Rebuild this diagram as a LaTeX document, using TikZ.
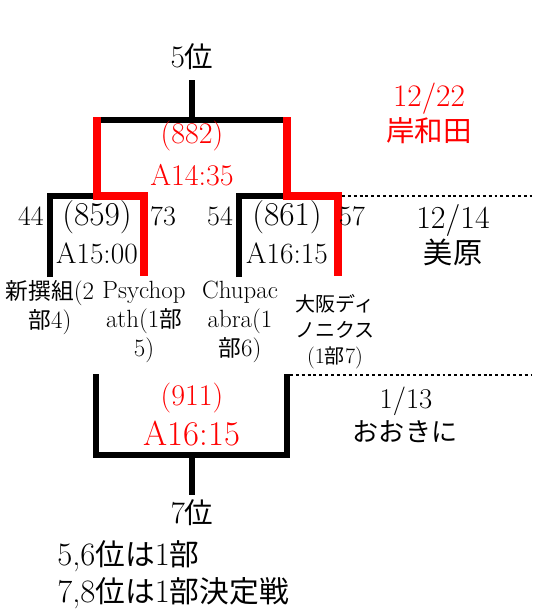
\documentclass[tikz,border=0pt]{standalone}
\usepackage{fontspec}
\usepackage{tikz}
\usetikzlibrary{positioning}
\newfontfamily\jp[Scale=0.91]{Noto Sans CJK JP}
\definecolor{wred}{RGB}{255,0,0}
\tikzstyle{bracket} = [line width=4.5pt, color=black, line join=miter]
\tikzstyle{winner} = [line width=6pt, color=wred, line join=miter]
\tikzstyle{nextday} = [line width=2.2pt, color=black, dash pattern=on 2.2pt off 2.2pt]
\tikzstyle{txt} = [inner sep=0pt, anchor=base]
\tikzstyle{team} = [inner sep=0pt, anchor=base, align=center, font=\fontsize{18.7}{21.4}\selectfont]

\begin{document}
\begin{tikzpicture}[x=0.75pt, y=-0.75pt]
    \useasboundingbox (0,0) rectangle (532,610);

    % Joints of the bracket
    \coordinate (top5) at (192,80);
    \coordinate (m882) at (192,120);
    \coordinate (l882) at (97,117);
    \coordinate (r882) at (287,117);
    \coordinate (m859) at (97,196);
    \coordinate (m861) at (287,196);
    \coordinate (end14) at (532,196);
    \coordinate (m911) at (192,455);
    \coordinate (bot7) at (192,495);
    \coordinate (end13) at (532,375);

    % Semi-finals
    \draw[bracket] (50,277) -- (50,196) -- (m859);
    \draw[bracket] (239,277) -- (239,196) -- (m861);
    \draw[winner] (l882) -- (m859) -- (144,196) -- (144,276);
    \draw[winner] (r882) -- (m861) -- (338,196) -- (338,276);
    \draw[nextday] (342,196) -- (end14);

    % 5th place match
    \draw[bracket] (101,120) -- (283,120);
    \draw[bracket] (m882) -- (top5);

    % 7th place match
    \draw[bracket] (96,374) -- (96,455) -- (287,455) -- (287,374);
    \draw[bracket] (m911) -- (bot7);
    \draw[nextday] (290,375) -- (end13);

    % Labels of the 5th place match
    \node[txt, font=\fontsize{23.5}{28}\selectfont] (rank5) at (192,68) {5{\jp 位}};
    \node[txt, wred, font=\fontsize{22.5}{26}\selectfont] (g882) at (192,143) {(882)};
    \node[txt, wred, font=\fontsize{22.5}{26}\selectfont] (t882) at (192,185) {A14:35};
    \node[txt, wred, font=\fontsize{23.5}{28}\selectfont] (day22) at (429,107) {12/22};
    \node[txt, wred, font=\fontsize{23.5}{28}\selectfont] (site22) at (429,141) {\jp 岸和田};

    % Semi-final labels
    \node[txt, font=\fontsize{21}{24}\selectfont] (s44) at (31,225) {44};
    \node[txt, font=\fontsize{25}{29}\selectfont] (g859) at (97,225) {(859)};
    \node[txt, font=\fontsize{21}{24}\selectfont] (s73) at (163,225) {73};
    \node[txt, font=\fontsize{22}{26}\selectfont] (t859) at (97,263) {A15:00};
    \node[txt, font=\fontsize{21}{24}\selectfont] (s54) at (220,225) {54};
    \node[txt, font=\fontsize{25}{29}\selectfont] (g861) at (287,225) {(861)};
    \node[txt, font=\fontsize{21}{24}\selectfont] (s57) at (352,225) {57};
    \node[txt, font=\fontsize{22}{26}\selectfont] (t861) at (287,263) {A16:15};
    \node[txt, font=\fontsize{24}{28}\selectfont] (day14) at (453,228) {12/14};
    \node[txt, font=\fontsize{24}{28}\selectfont] (site14) at (453,263) {\jp 美原};

    % Teams
    \node[team] (shinsen) at (50,328) {{\jp 新撰組}(2\\{\jp 部}4)};
    \node[team] (psycho) at (144,356) {Psychop\\ath(1{\jp 部}\\5)};
    \node[team] (chupa) at (240,356) {Chupac\\abra(1\\{\jp 部}6)};
    \node[team, font=\fontsize{16.5}{19.5}\selectfont] (dino) at (335,363) {{\jp 大阪ディ}\\{\jp ノニクス}\\(1{\jp 部}7)};

    % Labels of the 7th place match
    \node[txt, wred, font=\fontsize{22.5}{26}\selectfont] (g911) at (192,405) {(911)};
    \node[txt, wred, font=\fontsize{26}{30}\selectfont] (t911) at (192,445) {A16:15};
    \node[txt, font=\fontsize{21.5}{25}\selectfont] (day13) at (406,408) {1/13};
    \node[txt, font=\fontsize{21.5}{25}\selectfont] (site13) at (405,441) {\jp おおきに};
    \node[txt, font=\fontsize{23.5}{28}\selectfont] (rank7) at (192,523) {7{\jp 位}};

    % Notes
    \node[txt, anchor=base west, font=\fontsize{24.5}{29}\selectfont] (note56) at (57,565) {5,6{\jp 位は}1{\jp 部}};
    \node[txt, anchor=base west, font=\fontsize{24.5}{29}\selectfont] (note78) at (57,602) {7,8{\jp 位は}1{\jp 部決定戦}};
\end{tikzpicture}
\end{document}
